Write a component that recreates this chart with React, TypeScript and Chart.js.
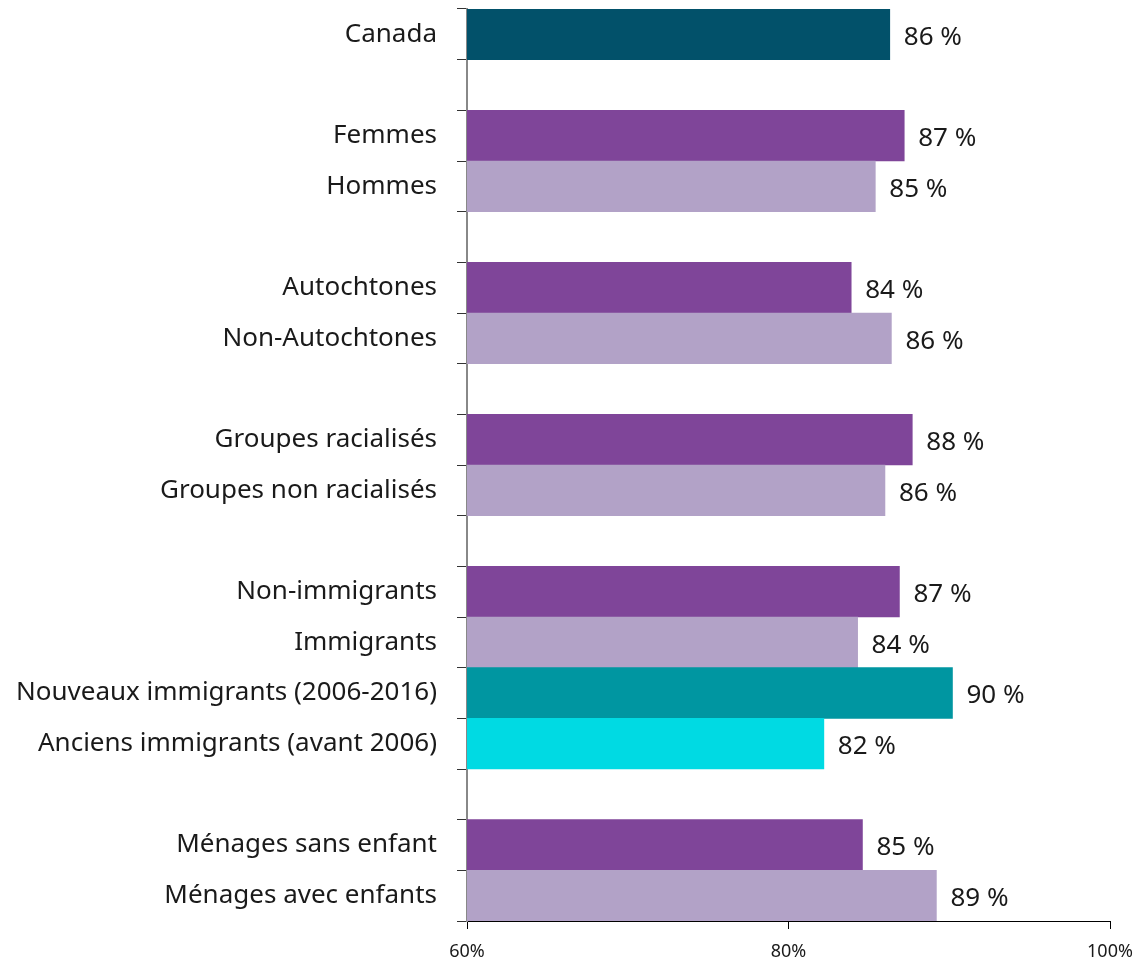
import React, { useEffect, useRef } from "react";
import { Chart, registerables } from "chart.js";

Chart.register(...registerables);

const categories: string[] = [
  "Canada",
  "",
  "Femmes",
  "Hommes",
  "",
  "Autochtones",
  "Non-Autochtones",
  "",
  "Groupes racialisés",
  "Groupes non racialisés",
  "",
  "Non-immigrants",
  "Immigrants",
  "Nouveaux immigrants (2006-2016)",
  "Anciens immigrants (avant 2006)",
  "",
  "Ménages sans enfant",
  "Ménages avec enfants",
];

const values: (number | null)[] = [
  86.3, null, 87.2, 85.4, null, 83.9, 86.4, null, 87.7, 86.0, null, 86.9, 84.3, 90.2, 82.2, null, 84.6, 89.2,
];

const valueLabels: string[] = [
  "86 %", "", "87 %", "85 %", "", "84 %", "86 %", "", "88 %", "86 %", "", "87 %", "84 %", "90 %", "82 %", "", "85 %", "89 %",
];

const barColors: string[] = [
  "#02516A", "#000000", "#7F4599", "#B2A2C7", "#000000", "#7F4599", "#B2A2C7", "#000000", "#7F4599", "#B2A2C7",
  "#000000", "#7F4599", "#B2A2C7", "#0096A1", "#00DAE3", "#000000", "#7F4599", "#B2A2C7",
];

const xTickValues: number[] = [60, 80, 100];

const FONT = "'Noto Sans', sans-serif";

const valueLabelPlugin = {
  id: "valueLabels",
  afterDatasetsDraw(chart: any) {
    const ctx = chart.ctx;
    const meta = chart.getDatasetMeta(0);
    ctx.save();
    ctx.font = `26px ${FONT}`;
    ctx.fillStyle = "#1a1a1a";
    ctx.textAlign = "left";
    ctx.textBaseline = "middle";
    meta.data.forEach((bar: any, i: number) => {
      if (values[i] == null) return;
      ctx.fillText(valueLabels[i], bar.x + 14, bar.y + 3);
    });
    ctx.restore();
  },
};

export default function App() {
  const ref = useRef<HTMLCanvasElement | null>(null);
  useEffect(() => {
    if (!ref.current) return;
    const chart = new Chart(ref.current, {
      type: "bar",
      data: {
        labels: categories,
        datasets: [
          {
            data: values,
            backgroundColor: barColors,
            barPercentage: 1,
            categoryPercentage: 1,
            borderWidth: 0,
          },
        ],
      },
      options: {
        indexAxis: "y",
        animation: false,
        responsive: true,
        maintainAspectRatio: false,
        layout: { padding: { top: 1, right: 29, left: 0, bottom: 0 } },
        plugins: {
          legend: { display: false },
          tooltip: { enabled: false },
        },
        scales: {
          x: {
            min: 60,
            max: 100,
            afterBuildTicks(scale: any) {
              scale.ticks = xTickValues.map((v) => ({ value: v }));
            },
            afterFit(scale: any) {
              scale.height = 36;
              scale.paddingLeft = 0;
              scale.paddingRight = 0;
            },
            ticks: {
              callback: (v: any) => `${v}%`,
              font: { family: FONT, size: 18 },
              color: "#1a1a1a",
              padding: 12,
              maxRotation: 0,
            },
            grid: {
              drawOnChartArea: false,
              drawTicks: true,
              tickLength: 8,
              color: "#000000",
            },
            border: { color: "#000000", width: 1 },
          },
          y: {
            afterFit(scale: any) {
              scale.width = 459;
              scale.paddingTop = 0;
              scale.paddingBottom = 0;
            },
            ticks: {
              font: { family: FONT, size: 26 },
              color: "#1a1a1a",
              padding: 20,
              autoSkip: false,
            },
            grid: {
              drawOnChartArea: false,
              drawTicks: true,
              tickLength: 10,
              offset: true,
              color: "#333333",
            },
            border: { color: "#888888", width: 2 },
          },
        },
      },
      plugins: [valueLabelPlugin],
    });
    return () => chart.destroy();
  }, []);
  return (
    <div style={{ width: 1131, height: 949, position: "relative" }}>
      <canvas ref={ref} />
    </div>
  );
}
